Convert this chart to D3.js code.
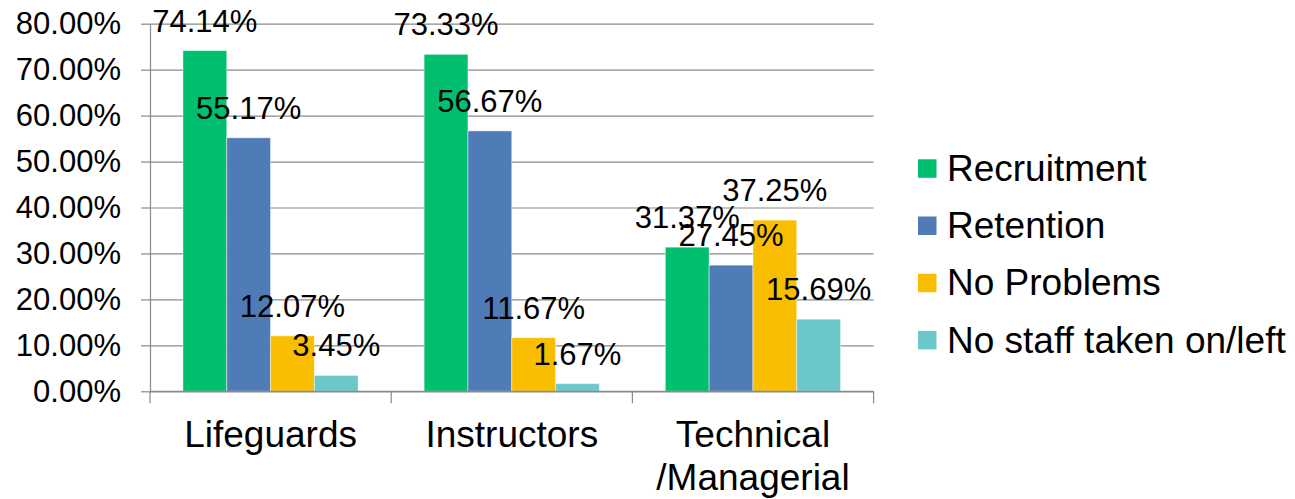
<!DOCTYPE html>
<html>
<head>
<meta charset="utf-8">
<script src="https://cdn.jsdelivr.net/npm/d3@7"></script>
<style>
  body { margin: 0; background: #fff; }
  svg { display: block; font-family: "Liberation Sans", Arial, sans-serif; }
</style>
</head>
<body>
<div id="chart"></div>
<script>
var categories = ["Lifeguards", "Instructors", "Technical\n/Managerial"];
var seriesNames = ["Recruitment", "Retention", "No Problems", "No staff taken on/left"];
var recruitment = [0.7414, 0.7333, 0.3137];
var retention = [0.5517, 0.5667, 0.2745];
var noProblems = [0.1207, 0.1167, 0.3725];
var noStaff = [0.0345, 0.0167, 0.1569];
var yTicks = [0, 0.1, 0.2, 0.3, 0.4, 0.5, 0.6, 0.7, 0.8];
var colors = ["#00BF6F", "#4F7BB6", "#F9BE00", "#6CC7CB"];

var seriesValues = [recruitment, retention, noProblems, noStaff];

var width = 1295, height = 499;
var plotLeft = 150, plotRight = 873.6, plotTop = 23.7, plotBottom = 391.3;

var svg = d3.select("#chart").append("svg")
    .attr("width", width)
    .attr("height", height);

var y = d3.scaleLinear().domain([0, 0.8]).range([plotBottom, plotTop]);
var x0 = d3.scaleBand().domain(categories).range([plotLeft, plotRight]).padding(0);
var bw = x0.bandwidth();
var x1 = d3.scaleBand().domain(seriesNames).range([bw * 0.1365, bw * 0.863]).padding(0);

// gridlines
var grid = svg.append("g")
    .attr("transform", "translate(" + plotLeft + ",0)")
    .call(d3.axisLeft(y).tickValues(yTicks).tickSize(-(plotRight - plotLeft)).tickFormat(""));
grid.select(".domain").remove();
grid.selectAll("line").attr("stroke", "#8a8a8a").attr("stroke-width", 1.2);

// y axis with labels
var yAxis = svg.append("g")
    .attr("transform", "translate(" + plotLeft + ",0)")
    .call(d3.axisLeft(y).tickValues(yTicks).tickSize(9).tickSizeOuter(0).tickPadding(20).tickFormat(d3.format(".2%")));
yAxis.select(".domain").attr("stroke", "#8a8a8a").attr("stroke-width", 1.2);
yAxis.selectAll("line").attr("stroke", "#8a8a8a").attr("stroke-width", 1.2);
yAxis.selectAll("text")
    .attr("fill", "#000")
    .style("font-family", "'Liberation Sans', Arial, sans-serif")
    .style("font-size", "31px");

// bars
var groups = svg.append("g").selectAll("g")
    .data(categories)
    .join("g")
    .attr("transform", function(d) { return "translate(" + x0(d) + ",0)"; });

groups.each(function(cat, ci) {
    var g = d3.select(this);
    seriesNames.forEach(function(s, si) {
        var v = seriesValues[si][ci];
        g.append("rect")
            .attr("x", x1(s))
            .attr("y", y(v))
            .attr("width", x1.bandwidth())
            .attr("height", y(0) - y(v))
            .attr("fill", colors[si])
            .attr("stroke", "rgba(255,255,255,0.45)")
            .attr("stroke-width", 1);
    });
});

// x axis baseline and category ticks
var xAxis = svg.append("g")
    .attr("transform", "translate(0," + plotBottom + ")");
xAxis.append("line")
    .attr("x1", plotLeft).attr("x2", plotRight)
    .attr("stroke", "#8a8a8a").attr("stroke-width", 1.2);
var bounds = categories.map(function(c) { return x0(c); }).concat([plotRight]);
xAxis.selectAll("line.tick")
    .data(bounds)
    .join("line")
    .attr("class", "tick")
    .attr("x1", function(d) { return d; })
    .attr("x2", function(d) { return d; })
    .attr("y1", 0).attr("y2", 12)
    .attr("stroke", "#8a8a8a").attr("stroke-width", 1.2);

// category labels
svg.append("g").selectAll("text")
    .data(categories)
    .join("text")
    .attr("x", function(d) { return x0(d) + bw / 2; })
    .attr("y", 447)
    .attr("text-anchor", "middle")
    .style("font-size", "37px")
    .attr("fill", "#000")
    .each(function(d) {
        var t = d3.select(this);
        d.split("\n").forEach(function(line, i) {
            t.append("tspan")
                .attr("x", x0(d) + bw / 2)
                .attr("dy", i === 0 ? 0 : 43)
                .text(line);
        });
    });

// data labels
groups.each(function(cat, ci) {
    var g = d3.select(this);
    seriesNames.forEach(function(s, si) {
        var v = seriesValues[si][ci];
        g.append("text")
            .attr("x", x1(s) + x1.bandwidth() / 2)
            .attr("y", y(v) - 19)
            .attr("text-anchor", "middle")
            .style("font-size", "31px")
            .attr("fill", "#000")
            .text(d3.format(".2%")(v));
    });
});

// legend
var legend = svg.append("g").attr("transform", "translate(918,168.5)");
seriesNames.forEach(function(s, i) {
    var row = legend.append("g").attr("transform", "translate(0," + (i * 57.2) + ")");
    row.append("rect")
        .attr("x", 0).attr("y", -9.2)
        .attr("width", 18.5).attr("height", 18.5)
        .attr("fill", colors[i]);
    row.append("text")
        .attr("x", 29).attr("y", 12.5)
        .style("font-size", "37px")
        .attr("fill", "#000")
        .text(s);
});
</script>
</body>
</html>
